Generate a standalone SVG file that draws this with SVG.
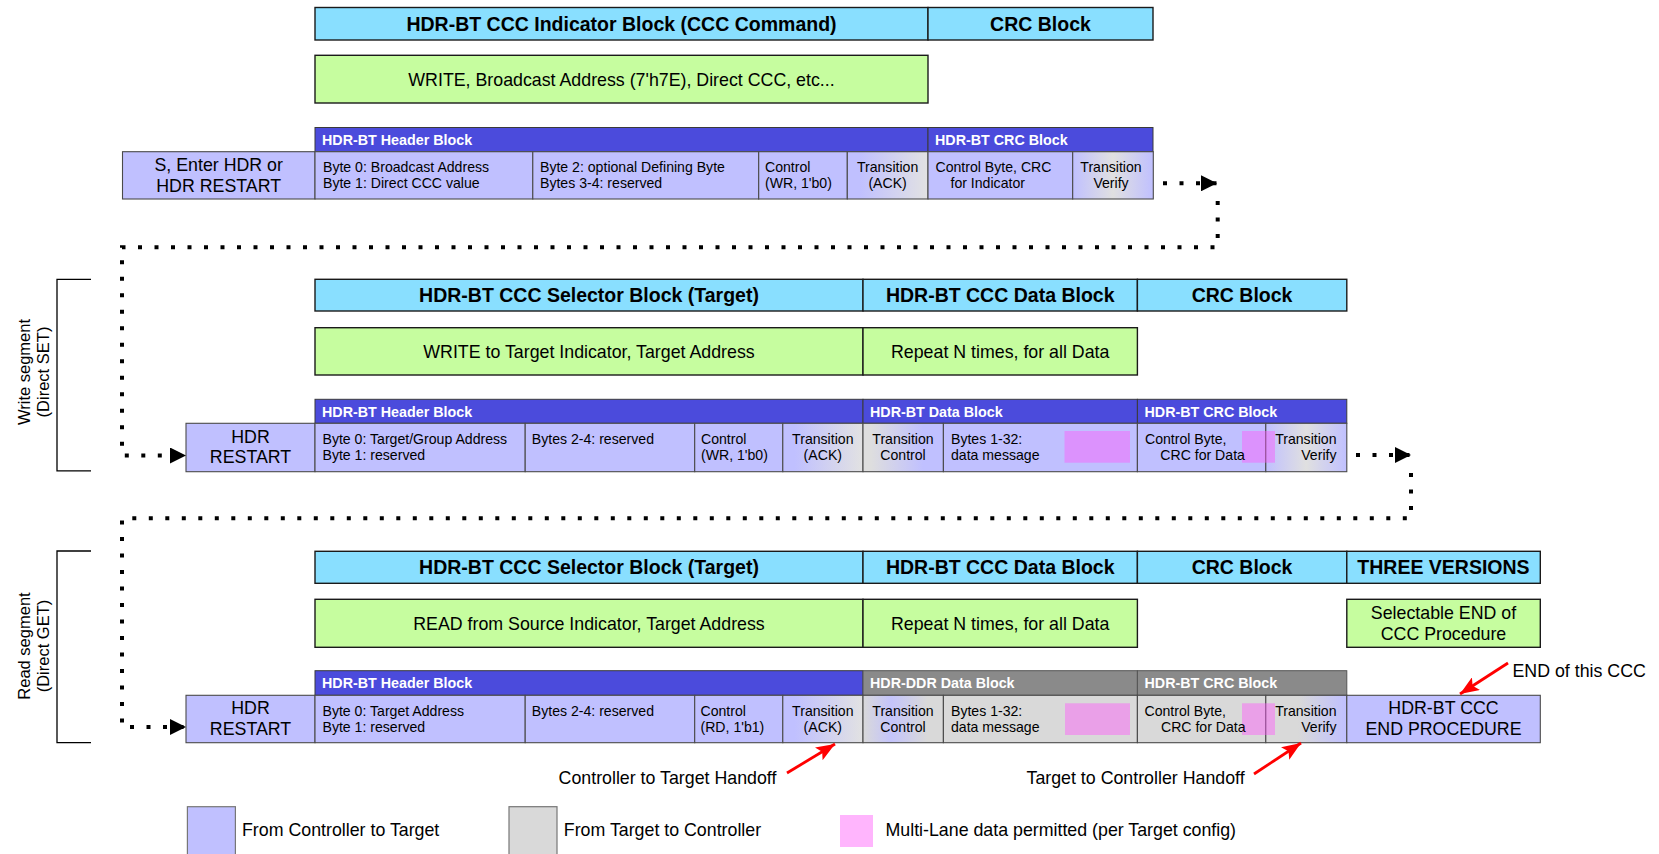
<svg xmlns="http://www.w3.org/2000/svg" width="1659" height="854" viewBox="0 0 1659 854">
  <style>
    text { font-family: "Liberation Sans", Arial, sans-serif; fill: #000; }
    .ttl { font-size: 19.5px; font-weight: bold; text-anchor: middle; }
    .big { font-size: 17.8px; }
    .mid { text-anchor: middle; }
    .end { text-anchor: end; }
    .cell { font-size: 14.1px; }
    .band { font-size: 14.3px; font-weight: bold; fill: #fff; }
    .side { font-size: 16.5px; text-anchor: middle; }
    .cyan { fill: #89dfff; stroke: #1a1a1a; stroke-width: 1.4; }
    .green { fill: #c6fd9f; stroke: #1a1a1a; stroke-width: 1.4; }
    .bb { fill: #4b4bdc; stroke: #3a3a3a; stroke-width: 1; }
    .gb { fill: #8a8a8a; stroke: #555; stroke-width: 1; }
    .cb { fill: #c0c0ff; stroke: #4a4a4a; stroke-width: 1.1; }
    .cg { fill: #d9d9d9; stroke: #4a4a4a; stroke-width: 1.1; }
    .pink { fill: #ff57fb; fill-opacity: 0.44; }
    .dots { fill: none; stroke: #000; stroke-width: 4; stroke-dasharray: 4 12.5; }
    .red { fill: none; stroke: #ff0000; stroke-width: 2.8; }
    .brk { fill: none; stroke: #000; stroke-width: 1.3; }
  </style>
  <defs>
    <linearGradient id="gBG" x1="0" y1="0" x2="1" y2="0">
      <stop offset="0.15" stop-color="#c0c0ff"/>
      <stop offset="1" stop-color="#e2e2e2"/>
    </linearGradient>
    <linearGradient id="gGB" x1="0" y1="0" x2="1" y2="0">
      <stop offset="0.1" stop-color="#dedede"/>
      <stop offset="0.75" stop-color="#c0c0ff"/>
    </linearGradient>
    <linearGradient id="gBGBl" x1="0" y1="0" x2="1" y2="0">
      <stop offset="0" stop-color="#c0c0ff"/>
      <stop offset="0.5" stop-color="#e0e0e0"/>
      <stop offset="1" stop-color="#c0c0ff"/>
    </linearGradient>
    <linearGradient id="gGBG" x1="0" y1="0" x2="1" y2="0">
      <stop offset="0" stop-color="#d9d9d9"/>
      <stop offset="0.35" stop-color="#c4c4fb"/>
      <stop offset="0.8" stop-color="#d9d9d9"/>
    </linearGradient>
    <linearGradient id="gGBr" x1="0" y1="0" x2="1" y2="0">
      <stop offset="0.4" stop-color="#d9d9d9"/>
      <stop offset="1" stop-color="#c0c0ff"/>
    </linearGradient>
    <marker id="ah" markerUnits="userSpaceOnUse" markerWidth="16" markerHeight="16" refX="16" refY="8" orient="auto">
      <path d="M0,0 L16,8 L0,16 z" fill="#000"/>
    </marker>
    <marker id="rh" markerUnits="userSpaceOnUse" markerWidth="19" markerHeight="15" refX="19" refY="7.5" orient="auto">
      <path d="M0,0 L19,7.5 L0,15 L4,7.5 z" fill="#ff0000"/>
    </marker>
  </defs>

  <!-- Row 1: indicator (CCC command) -->
  <g id="row1-heading">
    <rect class="cyan" x="315" y="7.5" width="613" height="32.5"/>
    <rect class="cyan" x="928" y="7.5" width="225" height="32.5"/>
    <text class="ttl" x="621.5" y="30.5">HDR-BT CCC Indicator Block (CCC Command)</text>
    <text class="ttl" x="1040.5" y="30.5">CRC Block</text>
  </g>
  <g id="row1-summary">
    <rect class="green" x="315" y="55.3" width="613" height="47.7"/>
    <text class="big mid" x="621.5" y="85.5">WRITE, Broadcast Address (7'h7E), Direct CCC, etc...</text>
  </g>
  <g id="row1-frame">
    <rect class="bb" x="315" y="127.5" width="613" height="24.2"/>
    <rect class="bb" x="928" y="127.5" width="225" height="24.2"/>
    <text class="band" x="322" y="145">HDR-BT Header Block</text>
    <text class="band" x="935" y="145">HDR-BT CRC Block</text>
    <rect class="cb" x="122.5" y="151.7" width="192.5" height="47.3"/>
    <rect class="cb" x="315" y="151.7" width="217.8" height="47.3"/>
    <rect class="cb" x="532.8" y="151.7" width="225.9" height="47.3"/>
    <rect class="cb" x="758.7" y="151.7" width="88.6" height="47.3"/>
    <rect x="847.3" y="151.7" width="80.7" height="47.3" fill="url(#gBG)" stroke="#4a4a4a" stroke-width="1.1"/>
    <rect class="cb" x="928" y="151.7" width="144.7" height="47.3"/>
    <rect x="1072.7" y="151.7" width="80.6" height="47.3" fill="url(#gBGBl)" stroke="#4a4a4a" stroke-width="1.1"/>
    <text class="big mid" x="218.7" y="170.7">S, Enter HDR or</text>
    <text class="big mid" x="218.7" y="191.7">HDR RESTART</text>
    <text class="cell" x="323" y="172">Byte 0: Broadcast Address</text>
    <text class="cell" x="323" y="188.3">Byte 1: Direct CCC value</text>
    <text class="cell" x="540" y="172">Byte 2: optional Defining Byte</text>
    <text class="cell" x="540" y="188.3">Bytes 3-4: reserved</text>
    <text class="cell" x="765" y="172">Control</text>
    <text class="cell" x="765" y="188.3">(WR, 1'b0)</text>
    <text class="cell mid" x="887.6" y="172">Transition</text>
    <text class="cell mid" x="887.6" y="188.3">(ACK)</text>
    <text class="cell" x="935.5" y="172">Control Byte, CRC</text>
    <text class="cell" x="950.5" y="188.3">for Indicator</text>
    <text class="cell mid" x="1111" y="172">Transition</text>
    <text class="cell mid" x="1111" y="188.3">Verify</text>
  </g>

  <!-- Row 2: write segment -->
  <g id="write-bracket">
    <path class="brk" d="M91,279.3 H57 V470.8 H91"/>
    <text class="side" transform="translate(29.5,372) rotate(-90)">Write segment</text>
    <text class="side" transform="translate(49,372) rotate(-90)">(Direct SET)</text>
  </g>
  <g id="row2-heading">
    <rect class="cyan" x="315" y="279.3" width="548" height="31.7"/>
    <rect class="cyan" x="863" y="279.3" width="274.4" height="31.7"/>
    <rect class="cyan" x="1137.4" y="279.3" width="209.4" height="31.7"/>
    <text class="ttl" x="589" y="302">HDR-BT CCC Selector Block (Target)</text>
    <text class="ttl" x="1000.2" y="302">HDR-BT CCC Data Block</text>
    <text class="ttl" x="1242.1" y="302">CRC Block</text>
  </g>
  <g id="row2-summary">
    <rect class="green" x="315" y="327.7" width="548" height="47.3"/>
    <rect class="green" x="863" y="327.7" width="274.4" height="47.3"/>
    <text class="big mid" x="589" y="357.6">WRITE to Target Indicator, Target Address</text>
    <text class="big mid" x="1000.2" y="357.6">Repeat N times, for all Data</text>
  </g>
  <g id="row2-frame">
    <rect class="bb" x="315" y="399.3" width="548" height="24"/>
    <rect class="bb" x="863" y="399.3" width="274.4" height="24"/>
    <rect class="bb" x="1137.4" y="399.3" width="209.4" height="24"/>
    <text class="band" x="322" y="416.5">HDR-BT Header Block</text>
    <text class="band" x="870" y="416.5">HDR-BT Data Block</text>
    <text class="band" x="1144.5" y="416.5">HDR-BT CRC Block</text>
    <rect class="cb" x="186" y="423.3" width="129" height="48.4"/>
    <rect class="cb" x="315" y="423.3" width="210.2" height="48.4"/>
    <rect class="cb" x="525.2" y="423.3" width="169.5" height="48.4"/>
    <rect class="cb" x="694.7" y="423.3" width="88.1" height="48.4"/>
    <rect x="782.8" y="423.3" width="80.2" height="48.4" fill="url(#gBG)" stroke="#4a4a4a" stroke-width="1.1"/>
    <rect x="863" y="423.3" width="80.4" height="48.4" fill="url(#gGB)" stroke="#4a4a4a" stroke-width="1.1"/>
    <rect class="cb" x="943.4" y="423.3" width="194" height="48.4"/>
    <rect class="cb" x="1137.4" y="423.3" width="128.4" height="48.4"/>
    <rect x="1265.8" y="423.3" width="81" height="48.4" fill="url(#gBGBl)" stroke="#4a4a4a" stroke-width="1.1"/>
    <rect class="pink" x="1064.5" y="431" width="65.5" height="31.7"/>
    <rect class="pink" x="1242" y="431" width="33" height="31.7"/>
    <text class="big mid" x="250.5" y="442.5">HDR</text>
    <text class="big mid" x="250.5" y="463">RESTART</text>
    <text class="cell" x="322.5" y="443.8">Byte 0: Target/Group Address</text>
    <text class="cell" x="322.5" y="460">Byte 1: reserved</text>
    <text class="cell" x="531.8" y="443.8">Bytes 2-4: reserved</text>
    <text class="cell" x="701" y="443.8">Control</text>
    <text class="cell" x="701" y="460">(WR, 1'b0)</text>
    <text class="cell mid" x="822.8" y="443.8">Transition</text>
    <text class="cell mid" x="822.8" y="460">(ACK)</text>
    <text class="cell mid" x="903" y="443.8">Transition</text>
    <text class="cell mid" x="903" y="460">Control</text>
    <text class="cell" x="951" y="443.8">Bytes 1-32:</text>
    <text class="cell" x="951" y="460">data message</text>
    <text class="cell" x="1145" y="443.8">Control Byte,</text>
    <text class="cell" x="1160.3" y="460">CRC for Data</text>
    <text class="cell end" x="1336.5" y="443.8">Transition</text>
    <text class="cell end" x="1336.5" y="460">Verify</text>
  </g>

  <!-- Row 3: read segment -->
  <g id="read-bracket">
    <path class="brk" d="M91,551 H57 V742.7 H91"/>
    <text class="side" transform="translate(29.5,646) rotate(-90)">Read segment</text>
    <text class="side" transform="translate(49,646) rotate(-90)">(Direct GET)</text>
  </g>
  <g id="row3-heading">
    <rect class="cyan" x="315" y="551.3" width="548" height="32"/>
    <rect class="cyan" x="863" y="551.3" width="274.4" height="32"/>
    <rect class="cyan" x="1137.4" y="551.3" width="209.4" height="32"/>
    <rect class="cyan" x="1346.8" y="551.3" width="193.5" height="32"/>
    <text class="ttl" x="589" y="574">HDR-BT CCC Selector Block (Target)</text>
    <text class="ttl" x="1000.2" y="574">HDR-BT CCC Data Block</text>
    <text class="ttl" x="1242.1" y="574">CRC Block</text>
    <text class="ttl" x="1443.5" y="574">THREE VERSIONS</text>
  </g>
  <g id="row3-summary">
    <rect class="green" x="315" y="599.3" width="548" height="48"/>
    <rect class="green" x="863" y="599.3" width="274.4" height="48"/>
    <rect class="green" x="1346.8" y="599.3" width="193.5" height="48"/>
    <text class="big mid" x="589" y="629.6">READ from Source Indicator, Target Address</text>
    <text class="big mid" x="1000.2" y="629.6">Repeat N times, for all Data</text>
    <text class="big mid" x="1443.5" y="618.5">Selectable END of</text>
    <text class="big mid" x="1443.5" y="639.5">CCC Procedure</text>
  </g>
  <g id="row3-frame">
    <rect class="bb" x="315" y="670.7" width="548" height="24.6"/>
    <rect class="gb" x="863" y="670.7" width="274.4" height="24.6"/>
    <rect class="gb" x="1137.4" y="670.7" width="209.4" height="24.6"/>
    <text class="band" x="322" y="688">HDR-BT Header Block</text>
    <text class="band" x="870" y="688">HDR-DDR Data Block</text>
    <text class="band" x="1144.5" y="688">HDR-BT CRC Block</text>
    <rect class="cb" x="186" y="695.3" width="129" height="47.4"/>
    <rect class="cb" x="315" y="695.3" width="210.2" height="47.4"/>
    <rect class="cb" x="525.2" y="695.3" width="169.5" height="47.4"/>
    <rect class="cb" x="694.7" y="695.3" width="88.1" height="47.4"/>
    <rect x="782.8" y="695.3" width="80.2" height="47.4" fill="url(#gBG)" stroke="#4a4a4a" stroke-width="1.1"/>
    <rect x="863" y="695.3" width="80.4" height="47.4" fill="url(#gGBG)" stroke="#4a4a4a" stroke-width="1.1"/>
    <rect class="cg" x="943.4" y="695.3" width="194" height="47.4"/>
    <rect class="cg" x="1137.4" y="695.3" width="128.4" height="47.4"/>
    <rect x="1265.8" y="695.3" width="81" height="47.4" fill="url(#gGBr)" stroke="#4a4a4a" stroke-width="1.1"/>
    <rect class="cb" x="1346.8" y="695.3" width="193.5" height="47.4"/>
    <rect class="pink" x="1065" y="703.3" width="65" height="31.7"/>
    <rect class="pink" x="1242" y="703.3" width="33" height="31.7"/>
    <text class="big mid" x="250.5" y="714.3">HDR</text>
    <text class="big mid" x="250.5" y="735">RESTART</text>
    <text class="cell" x="322.5" y="715.8">Byte 0: Target Address</text>
    <text class="cell" x="322.5" y="732">Byte 1: reserved</text>
    <text class="cell" x="531.8" y="715.8">Bytes 2-4: reserved</text>
    <text class="cell" x="700.5" y="715.8">Control</text>
    <text class="cell" x="700.5" y="732">(RD, 1'b1)</text>
    <text class="cell mid" x="822.8" y="715.8">Transition</text>
    <text class="cell mid" x="822.8" y="732">(ACK)</text>
    <text class="cell mid" x="903" y="715.8">Transition</text>
    <text class="cell mid" x="903" y="732">Control</text>
    <text class="cell" x="951" y="715.8">Bytes 1-32:</text>
    <text class="cell" x="951" y="732">data message</text>
    <text class="cell" x="1144.5" y="715.8">Control Byte,</text>
    <text class="cell" x="1161" y="732">CRC for Data</text>
    <text class="cell end" x="1336.5" y="715.8">Transition</text>
    <text class="cell end" x="1336.5" y="732">Verify</text>
    <text class="big mid" x="1443.5" y="714">HDR-BT CCC</text>
    <text class="big mid" x="1443.5" y="735">END PROCEDURE</text>
  </g>

  <!-- dotted flow between rows -->
  <g id="connectors">
    <path class="dots" d="M1163,183.3 H1217" marker-end="url(#ah)"/>
    <path class="dots" d="M1217.7,201 V247.3 H122 V455.5 H186" marker-end="url(#ah)"/>
    <path class="dots" d="M1356,455 H1411" marker-end="url(#ah)"/>
    <path class="dots" d="M1411,473 V518.3 H122 V727 H186" marker-end="url(#ah)"/>
  </g>

  <!-- callouts -->
  <g id="callouts">
    <text class="big" x="558.6" y="784">Controller to Target Handoff</text>
    <path class="red" d="M787,773 L835,744" marker-end="url(#rh)"/>
    <text class="big" x="1026.5" y="784">Target to Controller Handoff</text>
    <path class="red" d="M1254,774 L1301,743" marker-end="url(#rh)"/>
    <text class="big" x="1512.5" y="677">END of this CCC</text>
    <path class="red" d="M1508,663 L1460,694" marker-end="url(#rh)"/>
  </g>

  <!-- legend -->
  <g id="legend">
    <rect x="187.4" y="806.7" width="48" height="52" fill="#c0c0ff" stroke="#777" stroke-width="1.2"/>
    <text class="big" x="242" y="836">From Controller to Target</text>
    <rect x="509" y="806.7" width="48" height="52" fill="#d9d9d9" stroke="#777" stroke-width="1.2"/>
    <text class="big" x="563.8" y="836">From Target to Controller</text>
    <rect class="pink" x="840" y="815" width="33" height="32"/>
    <text class="big" x="885.5" y="836">Multi-Lane data permitted (per Target config)</text>
  </g>
</svg>
